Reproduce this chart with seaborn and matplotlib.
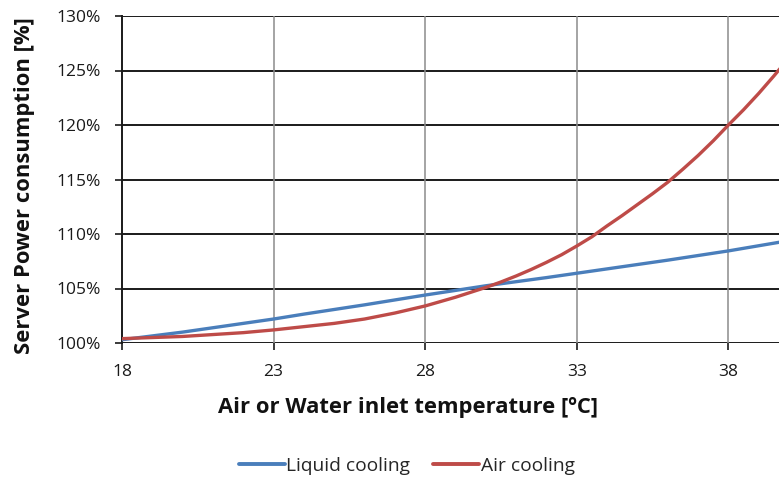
import numpy as np
import pandas as pd
import matplotlib
matplotlib.use("Agg")
import matplotlib.pyplot as plt
import seaborn as sns
from matplotlib.ticker import FuncFormatter

# Inlet temperature [ºC] and relative server power [%]
temp_liquid = [18, 20, 22, 23, 24, 26, 28, 30, 32, 33, 34, 36, 38, 39.8]
liquid_cooling = [100.3, 101.0, 101.8, 102.2, 102.65, 103.5, 104.4, 105.25,
                  106.0, 106.4, 106.8, 107.6, 108.45, 109.3]

temp_air = [18, 20, 22, 23, 24, 25, 26, 27, 28, 28.5, 29, 29.5, 30, 30.5,
            31, 31.5, 32, 32.5, 33, 33.5, 34, 34.5, 35, 35.5, 36, 36.5, 37,
            37.5, 38, 38.5, 39, 39.5, 39.8]
air_cooling = [100.4, 100.6, 100.95, 101.2, 101.5, 101.8, 102.2, 102.75,
               103.4, 103.8, 104.2, 104.65, 105.1, 105.6, 106.15, 106.75,
               107.4, 108.1, 108.9, 109.75, 110.75, 111.7, 112.7, 113.7,
               114.75, 115.95, 117.2, 118.55, 120.0, 121.4, 122.9, 124.5,
               125.5]

x_ticks = [18, 23, 28, 33, 38]
y_ticks = [100, 105, 110, 115, 120, 125, 130]

series_names = ["Liquid cooling", "Air cooling"]
colors = {"Liquid cooling": "#4a7ebb", "Air cooling": "#be4b48"}

df = pd.concat([
    pd.DataFrame({"temp": temp_liquid, "power": liquid_cooling, "series": series_names[0]}),
    pd.DataFrame({"temp": temp_air, "power": air_cooling, "series": series_names[1]}),
])

sns.set_theme(style="white")
plt.rcParams["font.family"] = ["Open Sans", "DejaVu Sans"]

fig = plt.figure(figsize=(7.79, 4.78), dpi=100)
ax = fig.add_axes([122 / 779, 1 - 343 / 478, 1 - 122 / 779 + 0.002, (343 - 16) / 478])

sns.lineplot(data=df, x="temp", y="power", hue="series", hue_order=series_names,
             palette=colors, linewidth=2.4, ax=ax, legend=False, zorder=3)

ax.set_xlim(18, 39.72)
ax.set_ylim(100, 130)
ax.set_xticks(x_ticks)
ax.set_yticks(y_ticks)
ax.yaxis.set_major_formatter(FuncFormatter(lambda v, p: f"{v:.0f}%"))

# Gridlines: dark horizontals, grey verticals
ax.grid(False)
for y in y_ticks:
    ax.axhline(y, color="#1a1a1a", lw=1.4, zorder=1)
for x in x_ticks[1:]:
    ax.axvline(x, color="#8c8c8c", lw=1.1, zorder=1)

for side in ["top", "right", "bottom"]:
    ax.spines[side].set_visible(False)
ax.spines["left"].set_color("#1a1a1a")
ax.spines["left"].set_linewidth(1.4)

ax.tick_params(axis="y", length=5, width=1.2, color="#1a1a1a", direction="out",
               left=True, labelsize=12.5, pad=10, labelcolor="#1a1a1a")
ax.tick_params(axis="x", length=5, width=1.2, color="#1a1a1a", direction="out",
               bottom=True, labelsize=12.5, pad=10, labelcolor="#1a1a1a")

ax.set_xlabel("Air or Water inlet temperature [ºC]", fontsize=15.8,
              fontweight="bold", color="#111111")
ax.xaxis.set_label_coords((407 - 122) / (779 - 122), -(397 - 343) / (343 - 16))
ax.set_ylabel("Server Power consumption [%]", fontsize=15.8,
              fontweight="bold", color="#111111")
ax.yaxis.set_label_coords(-(122 - 35) / (779 - 122), (343 - 186) / (343 - 16))

handles = [plt.Line2D([], [], color=colors[s], lw=2.8) for s in series_names]
fig.legend(handles, series_names, loc="center", ncol=2, frameon=False,
           bbox_to_anchor=(407 / 779, 1 - 466 / 478), fontsize=13.8,
           handlelength=2.4, handletextpad=0.1, columnspacing=1.2)

fig.savefig("out.png", dpi=100)
